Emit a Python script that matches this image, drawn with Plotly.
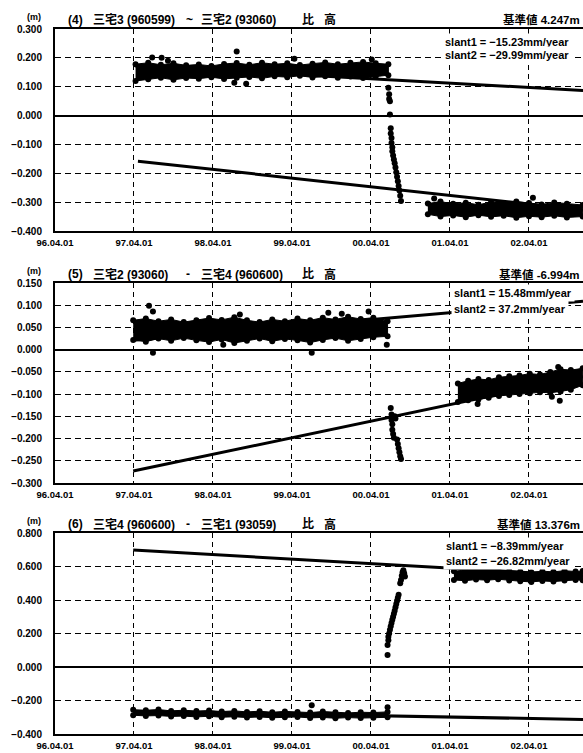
import plotly.graph_objects as go

W, H = 583, 753

# ---------------- data ----------------
x_tickvals = [1996.25, 1997.25, 1998.25, 1999.25, 2000.25, 2001.25, 2002.25]
x_ticktext = ["96.04.01", "97.04.01", "98.04.01", "99.04.01", "00.04.01", "01.04.01", "02.04.01"]
x_range = [1996.25, 2002.934]

# Panel (4)
p4_yticks = [-0.4, -0.3, -0.2, -0.1, 0.0, 0.1, 0.2, 0.3]
p4_yticktext = ["\u22120.400", "\u22120.300", "\u22120.200", "\u22120.100", "0.000", "0.100", "0.200", "0.300"]
p4_c1_t = [1997.27, 1997.43, 1997.59, 1997.75, 1997.91, 1998.07, 1998.23, 1998.39, 1998.55, 1998.71, 1998.87,
           1999.03, 1999.19, 1999.35, 1999.51, 1999.67, 1999.83, 1999.99, 2000.15, 2000.31, 2000.47]
p4_c1_hi = [0.178, 0.183, 0.176, 0.181, 0.174, 0.177, 0.172, 0.179, 0.182, 0.176, 0.183,
            0.178, 0.181, 0.175, 0.180, 0.184, 0.178, 0.183, 0.186, 0.181, 0.178]
p4_c1_lo = [0.120, 0.126, 0.131, 0.124, 0.130, 0.128, 0.133, 0.127, 0.131, 0.134, 0.129,
            0.136, 0.133, 0.138, 0.132, 0.136, 0.131, 0.135, 0.130, 0.136, 0.140]
p4_c2_t = [2000.97, 2001.13, 2001.29, 2001.45, 2001.61, 2001.77, 2001.93, 2002.09, 2002.25, 2002.41, 2002.57, 2002.73, 2002.93]
p4_c2_hi = [-0.305, -0.298, -0.306, -0.302, -0.309, -0.300, -0.304, -0.298, -0.303, -0.308, -0.301, -0.306, -0.310]
p4_c2_lo = [-0.342, -0.350, -0.346, -0.352, -0.345, -0.351, -0.347, -0.354, -0.349, -0.352, -0.347, -0.353, -0.350]
p4_pts_t = [1997.48, 1997.60, 1997.68, 1998.55, 1998.52, 1998.67, 1999.28, 2000.26, 2001.05, 2002.30]
p4_pts_v = [0.201, 0.200, 0.190, 0.222, 0.114, 0.110, 0.197, 0.194, -0.287, -0.285]
p4_tr_t = [2000.47, 2000.48, 2000.48, 2000.49, 2000.49, 2000.50, 2000.50, 2000.51, 2000.51, 2000.52, 2000.52,
           2000.53, 2000.54, 2000.55, 2000.56, 2000.57, 2000.58, 2000.59, 2000.60, 2000.61, 2000.62, 2000.63]
p4_tr_v = [0.096, 0.074, 0.057, 0.050, 0.004, -0.044, -0.062, -0.078, -0.095, -0.110, -0.124,
           -0.138, -0.152, -0.165, -0.180, -0.196, -0.212, -0.228, -0.244, -0.260, -0.278, -0.296]
p4_s1_t = [1997.26, 2002.934]
p4_s1_v = [0.173, 0.087]
p4_s2_t = [1997.30, 2002.934]
p4_s2_v = [-0.158, -0.327]

# Panel (5)
p5_yticks = [-0.3, -0.25, -0.2, -0.15, -0.1, -0.05, 0.0, 0.05, 0.1, 0.15]
p5_yticktext = ["\u22120.300", "\u22120.250", "\u22120.200", "\u22120.150", "\u22120.100", "\u22120.050",
                "0.000", "0.050", "0.100", "0.150"]
p5_c1_t = [1997.24, 1997.40, 1997.56, 1997.72, 1997.88, 1998.04, 1998.20, 1998.36, 1998.52, 1998.68, 1998.84,
           1999.00, 1999.16, 1999.32, 1999.48, 1999.64, 1999.80, 1999.96, 2000.12, 2000.28, 2000.46]
p5_c1_hi = [0.066, 0.070, 0.064, 0.068, 0.062, 0.066, 0.071, 0.067, 0.073, 0.066, 0.062,
            0.068, 0.064, 0.070, 0.066, 0.072, 0.068, 0.074, 0.069, 0.072, 0.064]
p5_c1_lo = [0.022, 0.018, 0.025, 0.020, 0.026, 0.021, 0.017, 0.023, 0.015, 0.020, 0.025,
            0.019, 0.024, 0.021, 0.016, 0.022, 0.026, 0.020, 0.024, 0.028, 0.030]
p5_c2_t = [2001.35, 2001.48, 2001.61, 2001.74, 2001.87, 2002.00, 2002.13, 2002.26, 2002.39, 2002.52, 2002.65, 2002.78, 2002.93]
p5_c2_hi = [-0.076, -0.070, -0.066, -0.068, -0.062, -0.060, -0.058, -0.054, -0.056, -0.050, -0.044, -0.046, -0.042]
p5_c2_lo = [-0.118, -0.114, -0.112, -0.108, -0.104, -0.102, -0.100, -0.098, -0.096, -0.097, -0.094, -0.090, -0.080]
p5_pts_t = [1997.44, 1997.49, 1997.49, 1998.38, 1998.59, 1999.50, 1999.71, 1999.88, 2000.22, 2000.45,
            2001.60, 2002.54, 2002.64, 2002.62]
p5_pts_v = [0.099, 0.086, -0.007, 0.011, 0.079, -0.007, 0.083, 0.081, 0.086, 0.011,
            -0.122, -0.106, -0.115, -0.039]
p5_tr_t = [2000.50, 2000.51, 2000.51, 2000.52, 2000.52, 2000.53, 2000.54, 2000.55, 2000.56,
           2000.58, 2000.59, 2000.60, 2000.61, 2000.62, 2000.63]
p5_tr_v = [-0.131, -0.146, -0.158, -0.168, -0.180, -0.190, -0.198, -0.150, -0.155,
           -0.202, -0.212, -0.222, -0.231, -0.240, -0.246]
p5_s1_t = [1997.24, 2002.934]
p5_s1_v = [0.021, 0.109]
p5_s2_t = [1997.24, 2002.934]
p5_s2_v = [-0.273, -0.061]

# Panel (6)
p6_yticks = [-0.4, -0.2, 0.0, 0.2, 0.4, 0.6, 0.8]
p6_yticktext = ["\u22120.400", "\u22120.200", "0.000", "0.200", "0.400", "0.600", "0.800"]
p6_c1_t = [1997.24, 1997.40, 1997.56, 1997.72, 1997.88, 1998.04, 1998.20, 1998.36, 1998.52, 1998.68, 1998.84,
           1999.00, 1999.16, 1999.32, 1999.48, 1999.64, 1999.80, 1999.96, 2000.12, 2000.28, 2000.46]
p6_c1_hi = [-0.255, -0.258, -0.254, -0.262, -0.258, -0.263, -0.260, -0.266, -0.262, -0.268, -0.264,
            -0.270, -0.265, -0.268, -0.272, -0.266, -0.270, -0.274, -0.270, -0.272, -0.268]
p6_c1_lo = [-0.288, -0.292, -0.290, -0.295, -0.293, -0.298, -0.294, -0.300, -0.297, -0.302, -0.298,
            -0.303, -0.300, -0.298, -0.304, -0.301, -0.306, -0.302, -0.305, -0.303, -0.300]
p6_c2_t = [2001.30, 2001.44, 2001.58, 2001.72, 2001.86, 2002.00, 2002.14, 2002.28, 2002.42, 2002.56, 2002.70, 2002.84, 2002.93]
p6_c2_hi = [0.572, 0.580, 0.585, 0.578, 0.582, 0.575, 0.570, 0.566, 0.572, 0.568, 0.575, 0.570, 0.573]
p6_c2_lo = [0.520, 0.515, 0.522, 0.518, 0.524, 0.516, 0.512, 0.508, 0.514, 0.510, 0.516, 0.520, 0.518]
p6_pts_t = [1999.50, 2000.46]
p6_pts_v = [-0.228, -0.240]
p6_tr_t = [2000.46, 2000.46, 2000.47, 2000.47, 2000.48, 2000.49, 2000.50, 2000.51, 2000.52, 2000.53, 2000.54,
           2000.55, 2000.56, 2000.57, 2000.58, 2000.59, 2000.60, 2000.62, 2000.63, 2000.64, 2000.65, 2000.66,
           2000.67, 2000.68]
p6_tr_v = [0.072, 0.132, 0.160, 0.180, 0.200, 0.222, 0.244, 0.262, 0.282, 0.300, 0.318,
           0.336, 0.356, 0.376, 0.396, 0.414, 0.432, 0.500, 0.520, 0.545, 0.565, 0.578,
           0.560, 0.540]
p6_s1_t = [1997.24, 2002.934]
p6_s1_v = [-0.265, -0.313]
p6_s2_t = [1997.24, 2002.934]
p6_s2_v = [0.698, 0.545]

titles = [
    ["(4)", "三宅3 (960599)", "~", "三宅2 (93060)", "比", "高"],
    ["(5)", "三宅2 (93060)", "-", "三宅4 (960600)", "比", "高"],
    ["(6)", "三宅4 (960600)", "-", "三宅1 (93059)", "比", "高"],
]
base_values = ["基準値 4.247m", "基準値 -6.994m", "基準値 13.376m"]
slant_texts = [
    ["slant1 = \u221215.23mm/year", "slant2 = \u221229.99mm/year"],
    ["slant1 = 15.48mm/year", "slant2 = 37.2mm/year"],
    ["slant1 = \u22128.39mm/year", "slant2 = \u221226.82mm/year"],
]

# ---------------- layout geometry (pixels) ----------------
panels = [
    dict(top=29, bottom=231, yr=[-0.4, 0.3], yt=p4_yticks, ytt=p4_yticktext,
         c1=(p4_c1_t, p4_c1_hi, p4_c1_lo), c2=(p4_c2_t, p4_c2_hi, p4_c2_lo),
         pts=(p4_pts_t, p4_pts_v), tr=(p4_tr_t, p4_tr_v),
         lines=[(p4_s1_t, p4_s1_v), (p4_s2_t, p4_s2_v)],
         slant_x=444, slant_y=[42, 55]),
    dict(top=283, bottom=483, yr=[-0.3, 0.15], yt=p5_yticks, ytt=p5_yticktext,
         c1=(p5_c1_t, p5_c1_hi, p5_c1_lo), c2=(p5_c2_t, p5_c2_hi, p5_c2_lo),
         pts=(p5_pts_t, p5_pts_v), tr=(p5_tr_t, p5_tr_v),
         lines=[(p5_s1_t, p5_s1_v), (p5_s2_t, p5_s2_v)],
         slant_x=453, slant_y=[293, 309]),
    dict(top=533, bottom=734, yr=[-0.4, 0.8], yt=p6_yticks, ytt=p6_yticktext,
         c1=(p6_c1_t, p6_c1_hi, p6_c1_lo), c2=(p6_c2_t, p6_c2_hi, p6_c2_lo),
         pts=(p6_pts_t, p6_pts_v), tr=(p6_tr_t, p6_tr_v),
         lines=[(p6_s1_t, p6_s1_v), (p6_s2_t, p6_s2_v)],
         slant_x=445, slant_y=[546, 561]),
]


def px(x):
    return x / W


def py(y):
    return 1 - y / H


FONT = "Liberation Sans, Arial, Noto Sans CJK JP"
fig = go.Figure()
annotations = []
layout = dict(
    width=W, height=H, margin=dict(l=0, r=0, t=0, b=0, autoexpand=False),
    paper_bgcolor="white", plot_bgcolor="white", showlegend=False,
)

MS = 6
for i, p in enumerate(panels, start=1):
    xa = "x" if i == 1 else f"x{i}"
    ya = "y" if i == 1 else f"y{i}"
    for (lt, lv) in p["lines"]:
        fig.add_trace(go.Scatter(x=lt, y=lv, xaxis=xa, yaxis=ya, mode="lines",
                                 line=dict(color="black", width=3), hoverinfo="skip"))
    for (ct, chi, clo) in (p["c1"], p["c2"]):
        fig.add_trace(go.Scatter(x=list(ct) + list(ct)[::-1], y=list(chi) + list(clo)[::-1],
                                 xaxis=xa, yaxis=ya, mode="lines+markers", fill="toself",
                                 fillcolor="black", line=dict(color="black", width=1),
                                 marker=dict(color="black", size=MS), hoverinfo="skip"))
    for (tt, tv) in (p["tr"], p["pts"]):
        fig.add_trace(go.Scatter(x=tt, y=tv, xaxis=xa, yaxis=ya, mode="markers",
                                 marker=dict(color="black", size=MS), hoverinfo="skip"))

    xkey = "xaxis" if i == 1 else f"xaxis{i}"
    ykey = "yaxis" if i == 1 else f"yaxis{i}"
    layout[xkey] = dict(
        domain=[px(55), 1], anchor=ya, range=x_range, tickmode="array", automargin=False,
        tickvals=x_tickvals, ticktext=x_ticktext, showgrid=True, gridcolor="black",
        gridwidth=1, griddash="5px,4px", showline=True, linecolor="black", linewidth=2,
        mirror=True, zeroline=False, ticks="", ticklabelstandoff=2,
        tickfont=dict(family=FONT, size=9.5, color="black", weight="bold"),
    )
    layout[ykey] = dict(
        domain=[py(p["bottom"]), py(p["top"])], anchor=xa, range=p["yr"], tickmode="array",
        automargin=False,
        tickvals=p["yt"], ticktext=p["ytt"], showgrid=True, gridcolor="black", gridwidth=1,
        griddash="6px,4px", showline=True, linecolor="black", linewidth=2, mirror=False,
        zeroline=True, zerolinecolor="black", zerolinewidth=2, ticks="", ticklabelstandoff=9,
        tickfont=dict(family=FONT, size=10, color="black", weight="bold"),
    )

    ty = p["top"] - 9
    segs = titles[i - 1]
    seg_x = [66, 91, 184, 199, 300, 322]
    for s, sx in zip(segs, seg_x):
        annotations.append(dict(x=px(sx), y=py(ty), xref="paper", yref="paper", text=s,
                                showarrow=False, xanchor="left", yanchor="middle",
                                font=dict(family=FONT, size=12, color="black", weight="bold")))
    annotations.append(dict(x=px(582), y=py(ty), xref="paper", yref="paper", text=base_values[i - 1],
                            showarrow=False, xanchor="right", yanchor="middle",
                            font=dict(family=FONT, size=11.5, color="black", weight="bold")))
    annotations.append(dict(x=px(34), y=py(p["top"] - 12), xref="paper", yref="paper", text="(m)",
                            showarrow=False, xanchor="center", yanchor="middle",
                            font=dict(family=FONT, size=9, color="black", weight="bold")))
    for k, st in enumerate(slant_texts[i - 1]):
        annotations.append(dict(x=px(p["slant_x"] - 2), y=py(p["slant_y"][k]), xref="paper", yref="paper",
                                text=st, showarrow=False, xanchor="left", yanchor="middle",
                                bgcolor="white", borderpad=2,
                                font=dict(family=FONT, size=11, color="black", weight="bold")))

layout["annotations"] = annotations
fig.update_layout(**layout)
fig.write_html("out.html", config={"displayModeBar": False},
               post_script="document.body.style.margin='0';document.body.style.padding='0';"
                           "document.body.style.overflow='hidden';")
